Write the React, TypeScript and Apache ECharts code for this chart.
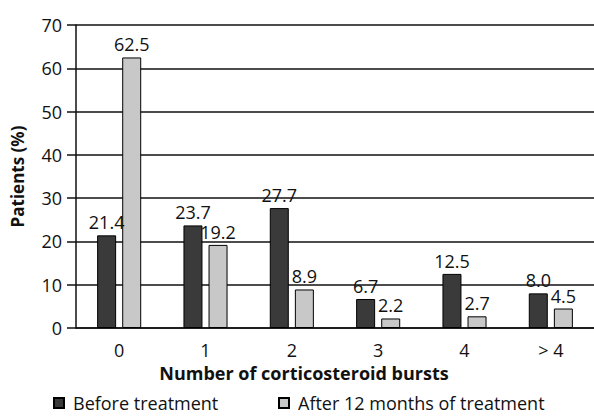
import React, { useEffect, useRef } from "react";
import * as echarts from "echarts";

const categories = ["0", "1", "2", "3", "4", "> 4"];
const beforeValues = [21.4, 23.7, 27.7, 6.7, 12.5, 8.0];
const afterValues = [62.5, 19.2, 8.9, 2.2, 2.7, 4.5];
const seriesNames = ["Before treatment", "After 12 months of treatment"];

const FONT = "Open Sans";

export default function App() {
  const ref = useRef<HTMLDivElement>(null);
  useEffect(() => {
    const chart = echarts.init(ref.current!, null, { renderer: "svg" });
    const labelStyle = {
      show: true,
      position: "top" as const,
      distance: 4,
      color: "#111",
      fontSize: 18,
      fontFamily: FONT,
      formatter: (p: any) => Number(p.value).toFixed(1),
    };
    const legendBase = {
      top: 394,
      itemWidth: 10,
      itemHeight: 10,
      icon: "rect",
      padding: 0,
      textStyle: { fontSize: 18, color: "#111", fontFamily: FONT, padding: [0, 0, 0, 4] },
    };
    chart.setOption({
      animation: false,
      textStyle: { fontFamily: FONT },
      grid: { left: 76, right: 0, top: 25, bottom: 88, containLabel: false },
      legend: [
        { ...legendBase, left: 53, data: [seriesNames[0]] },
        { ...legendBase, left: 278, data: [seriesNames[1]] },
      ],
      xAxis: {
        type: "category",
        data: categories,
        name: "Number of corticosteroid bursts",
        nameLocation: "middle",
        nameGap: 35,
        nameTextStyle: {
          fontSize: 18,
          fontWeight: "bold",
          color: "#111",
          fontFamily: FONT,
          padding: [0, 62, 0, 0],
        },
        axisLine: { show: true, lineStyle: { color: "#111", width: 1.5 } },
        axisTick: { show: false },
        axisLabel: { fontSize: 18, color: "#111", margin: 13, fontFamily: FONT },
      },
      yAxis: {
        type: "value",
        min: 0,
        max: 70,
        interval: 10,
        name: "Patients (%)",
        nameLocation: "middle",
        nameGap: 50,
        nameRotate: 90,
        nameTextStyle: { fontSize: 17, fontWeight: "bold", color: "#111", fontFamily: FONT },
        axisLine: { show: true, lineStyle: { color: "#111", width: 1.5 } },
        axisTick: { show: true, inside: false, length: 9, lineStyle: { color: "#111", width: 1.5 } },
        axisLabel: { fontSize: 18, color: "#111", margin: 14, fontFamily: FONT },
        splitLine: { show: true, lineStyle: { color: "#111", width: 1.5 } },
      },
      series: [
        {
          name: seriesNames[0],
          type: "bar",
          data: beforeValues,
          barWidth: 19,
          barGap: "32%",
          itemStyle: { color: "#3a3a3a", borderColor: "#000", borderWidth: 1 },
          label: labelStyle,
        },
        {
          name: seriesNames[1],
          type: "bar",
          data: afterValues,
          barWidth: 19,
          itemStyle: { color: "#c8c8c8", borderColor: "#000", borderWidth: 1 },
          label: labelStyle,
        },
      ],
    });
    return () => chart.dispose();
  }, []);
  return <div ref={ref} style={{ width: 594, height: 416, position: "absolute", left: 0, top: 0 }} />;
}
